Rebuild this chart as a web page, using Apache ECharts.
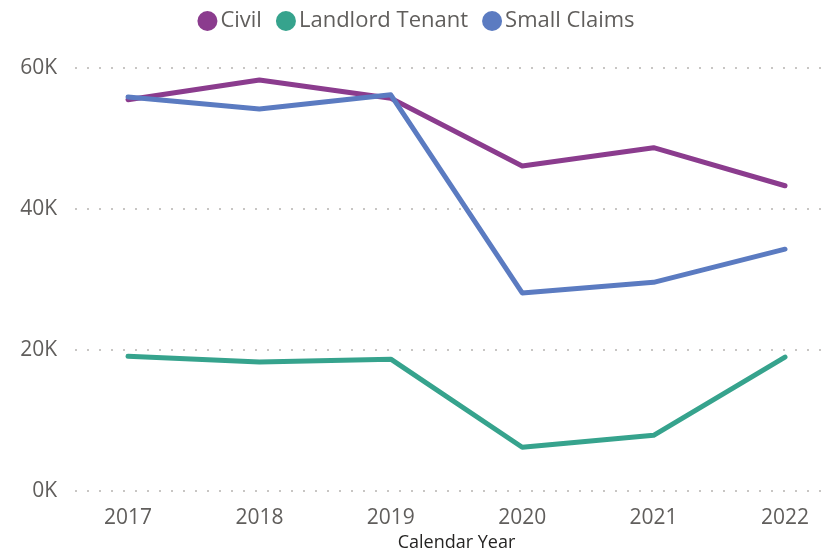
<!DOCTYPE html>
<html>
<head>
<meta charset="utf-8">
<script src="https://cdn.jsdelivr.net/npm/echarts@6/dist/echarts.min.js"></script>
<style>
  html, body { margin: 0; padding: 0; background: #fff; }
  #chart { width: 832px; height: 553px; }
</style>
</head>
<body>
<div id="chart"></div>
<script>
const years = ['2017', '2018', '2019', '2020', '2021', '2022']
const civil = [55500, 58300, 55700, 46100, 48700, 43300]
const landlordTenant = [19100, 18300, 18700, 6200, 7900, 19000]
const smallClaims = [55900, 54200, 56200, 28100, 29600, 34300]
const yTicks = [0, 20000, 40000, 60000]

const font = 'Open Sans'
const chart = echarts.init(document.getElementById('chart'), null, { renderer: 'canvas' })

function line(name, data, color) {
  return {
    name: name,
    type: 'line',
    xAxisIndex: 0,
    yAxisIndex: 0,
    data: data,
    symbol: 'none',
    lineStyle: { width: 5, color: color, cap: 'round', join: 'round' },
    itemStyle: { color: color }
  }
}

const option = {
  animation: false,
  textStyle: { fontFamily: font },
  legend: {
    top: 5,
    left: 'center',
    icon: 'circle',
    itemWidth: 20,
    itemHeight: 20,
    itemGap: 14,
    textStyle: { fontSize: 22, color: '#605E5C', fontFamily: font, padding: [0, 0, 0, -2] }
  },
  grid: [
    { left: 128, right: 47, top: 68, bottom: 62, outerBoundsMode: 'none', containLabel: false },
    { left: 75, right: 2, top: 68, bottom: 62, outerBoundsMode: 'none', containLabel: false }
  ],
  xAxis: [
    {
      type: 'category',
      gridIndex: 0,
      data: years,
      boundaryGap: false,
      axisLine: { show: false },
      axisTick: { show: false },
      axisLabel: { fontSize: 21, color: '#605E5C', margin: 17 },
      name: 'Calendar Year',
      nameLocation: 'middle',
      nameGap: 43,
      nameTextStyle: { fontSize: 18, color: '#252423' }
    },
    { type: 'value', gridIndex: 1, show: false, min: 0, max: 1 }
  ],
  yAxis: [
    { type: 'value', gridIndex: 0, min: 0, max: 60000, interval: 20000, show: false },
    {
      type: 'value',
      gridIndex: 1,
      min: yTicks[0],
      max: yTicks[yTicks.length - 1],
      interval: 20000,
      axisLine: { show: false },
      axisTick: { show: false },
      axisLabel: {
        fontSize: 21,
        color: '#605E5C',
        margin: 18,
        formatter: v => (v / 1000) + 'K'
      },
      splitLine: { lineStyle: { color: '#C8C6C4', width: 2, type: [2, 10] } }
    }
  ],
  series: [
    line('Civil', civil, '#8B3C8E'),
    line('Landlord Tenant', landlordTenant, '#36A38D'),
    line('Small Claims', smallClaims, '#5B7BC1')
  ]
}

chart.setOption(option)
</script>
</body>
</html>
